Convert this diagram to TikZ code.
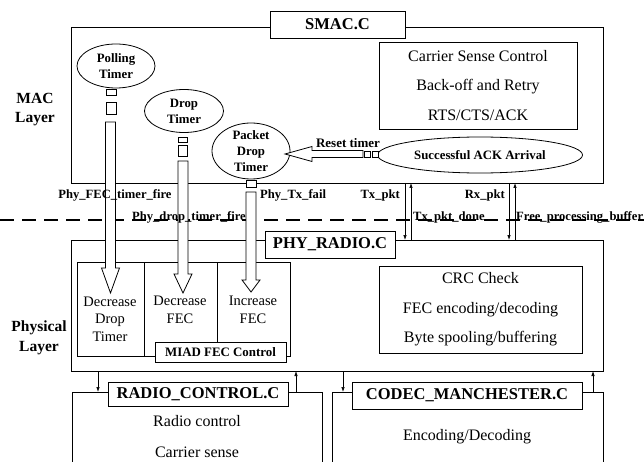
\documentclass[tikz,border=0pt]{standalone}
\usepackage{fontspec}
\setmainfont{Liberation Serif}
\usetikzlibrary{positioning}
\usetikzlibrary{shapes.geometric,arrows.meta}

\tikzset{
	box/.style={draw, line width=0.8pt, inner sep=0pt, outer sep=0pt},
	title/.style={box, fill=white, font=\fontsize{16.5}{19}\selectfont\bfseries},
	plain/.style={align=center, font=\fontsize{16}{29.5}\selectfont},
	timer/.style={draw, line width=0.8pt, ellipse, inner sep=0pt, outer sep=0pt},
	timertext/.style={align=center, inner sep=0pt, font=\fontsize{12.8}{16}\selectfont\bfseries},
	cell/.style={align=center, font=\fontsize{14.5}{17.5}\selectfont},
	layer/.style={align=center, font=\fontsize{15.5}{19.5}\selectfont\bfseries},
	signame/.style={inner sep=0pt, font=\fontsize{12.6}{14}\selectfont\bfseries},
	sig/.style={line width=0.7pt, -{Latex[length=5pt,width=3.5pt]}},
	blockarrow/.style={draw, fill=white, line width=0.8pt, line join=miter},
}

% hollow arrow going down: x, shaft top, head top, tip
\newcommand{\blockdown}[4]{%
	\draw[blockarrow] (#1-5,#2) -- (#1-5,#3) -- (#1-9,#3) -- (#1,#4)
		-- (#1+9,#3) -- (#1+5,#3) -- (#1+5,#2) -- cycle;}

\begin{document}
\begin{tikzpicture}[x=1pt, y=-1pt]
	\useasboundingbox (0,0) rectangle (644,462);
	\clip (0,0) rectangle (644,462);
	\fill[white] (0,0) rectangle (644,462);
	
	% ---------------------
	% MAC layer
	\node[layer] (MacLayer) at (35,109.5) {MAC\\Layer};
	\node[box, minimum width=532pt, minimum height=156pt] (SmacBox) at (337,105) {};
	\node[title, minimum width=135pt, minimum height=27pt] (SmacTitle) at (337.5,24.5) {SMAC.C};
	\node[box, plain, minimum width=198pt, minimum height=87pt] (SmacTasks) at (478,85.5)
		{Carrier Sense Control\\Back-off and Retry\\RTS/CTS/ACK};
	
	\node[timer, minimum width=78pt, minimum height=44pt,
		label={[timertext]center:Polling\\Timer}] (PollingTimer) at (116,66) {};
	\node[timer, minimum width=79pt, minimum height=43pt,
		label={[timertext]center:Drop\\Timer}] (DropTimer) at (184,111) {};
	\node[timer, minimum width=78pt, minimum height=56pt,
		label={[timertext]center:Packet\\Drop\\Timer}] (PacketTimer) at (251,151) {};
	\node[timer, minimum width=205pt, minimum height=36pt,
		font=\fontsize{12.8}{15}\selectfont\bfseries] (AckArrival) at (480,155) {Successful ACK Arrival};
	
	% ---------------------
	% Layer border
	\coordinate (DashL) at (0,220);
	\coordinate (DashR) at (644,220);
	\draw[line width=2.6pt, dash pattern=on 14pt off 8pt] (DashL) -- (DashR);
	
	% ---------------------
	% Physical layer
	\node[layer] (PhyLayer) at (39,338) {Physical\\Layer};
	\node[box, minimum width=532pt, minimum height=131pt] (PhyBox) at (337,305.5) {};
	\node[title, minimum width=130pt, minimum height=27pt] (PhyTitle) at (330,244.5) {PHY\_RADIO.C};
	\node[box, plain, minimum width=203pt, minimum height=87pt] (PhyTasks) at (480.5,309.5)
		{CRC Check\\FEC encoding/decoding\\Byte spooling/buffering};
	
	\node[box, minimum width=213pt, minimum height=94pt] (MiadBox) at (183.5,309) {};
	\draw[line width=0.8pt] (144,262) -- (144,356);
	\draw[line width=0.8pt] (217,262) -- (217,342);
	\node[title, minimum width=131pt, minimum height=20pt,
		font=\fontsize{12.9}{15}\selectfont\bfseries] (MiadTitle) at (220.5,352) {MIAD FEC Control};
	\node[cell] (DecDrop) at (110,319) {Decrease\\Drop\\Timer};
	\node[cell] (DecFec) at (180,310) {Decrease\\FEC};
	\node[cell] (IncFec) at (253,310) {Increase\\FEC};
	
	% ---------------------
	% Lower modules
	\node[box, minimum width=250pt, minimum height=88pt] (RadioBox) at (197,436) {};
	\node[title, minimum width=180pt, minimum height=24pt] (RadioTitle) at (198,394) {RADIO\_CONTROL.C};
	\node[plain, font=\fontsize{16}{31}\selectfont] (RadioTasks) at (197,437) {Radio control\\Carrier sense};
	
	\node[box, minimum width=271pt, minimum height=88pt] (CodecBox) at (467.5,436) {};
	\node[title, minimum width=230pt, minimum height=27pt] (CodecTitle) at (467,395.5) {CODEC\_MANCHESTER.C};
	\node[plain] (CodecTasks) at (467,437) {Encoding/Decoding};
	
	% ---------------------
	% Signals between layers
	\coordinate (TxPkt) at (405,0);
	\coordinate (TxDone) at (411,0);
	\coordinate (RxPkt) at (509,0);
	\coordinate (FreeBuf) at (515,0);
	\draw[sig] (SmacBox.south -| TxPkt) -- (PhyBox.north -| TxPkt);
	\draw[sig] (PhyBox.north -| TxDone) -- (SmacBox.south -| TxDone);
	\draw[sig] (SmacBox.south -| RxPkt) -- (PhyBox.north -| RxPkt);
	\draw[sig] (PhyBox.north -| FreeBuf) -- (SmacBox.south -| FreeBuf);
	
	\coordinate (RadioDown) at (98,0);
	\coordinate (RadioUp) at (296,0);
	\coordinate (CodecDown) at (343,0);
	\coordinate (CodecUp) at (593,0);
	\draw[sig] (PhyBox.south -| RadioDown) -- (RadioBox.north -| RadioDown);
	\draw[sig] (RadioBox.north -| RadioUp) -- (PhyBox.south -| RadioUp);
	\draw[sig] (PhyBox.south -| CodecDown) -- (CodecBox.north -| CodecDown);
	\draw[sig] (CodecBox.north -| CodecUp) -- (PhyBox.south -| CodecUp);
	
	% ---------------------
	% Timer firing
	\draw[blockarrow] (106,89) rectangle (116,95);
	\draw[blockarrow] (106,102) rectangle (116,114);
	\blockdown{110.5}{122}{268}{293}
	
	\draw[blockarrow] (178.5,137) rectangle (187.5,142);
	\draw[blockarrow] (178.5,145) rectangle (187.5,156);
	\blockdown{183}{161}{274}{293}
	
	\draw[blockarrow] (246,180) rectangle (256,187);
	\blockdown{251}{192}{280}{292}
	
	% Reset timer
	\path (PacketTimer.east) +(-5,3) coordinate (ResetTip);
	\draw[blockarrow] (363,150.5) -- (312,150.5) -- (312,146.5) -- (ResetTip)
		-- (312,161.5) -- (312,157.5) -- (363,157.5) -- cycle;
	\draw[blockarrow] (364,151) rectangle (370,157);
	\draw[blockarrow] (372,151) rectangle (378,157);
	
	% ---------------------
	% Signal names
	\node[signame] (FecFire) at (115,195) {Phy\_FEC\_timer\_fire};
	\node[signame] (DropFire) at (189,217) {Phy\_drop\_timer\_fire};
	\node[signame, anchor=west] (TxFail) at (260,195) {Phy\_Tx\_fail};
	\node[signame, anchor=east] (TxPktName) at (400,195) {Tx\_pkt};
	\node[signame, anchor=west] (TxDoneName) at (413,217) {Tx\_pkt\_done};
	\node[signame, anchor=east] (RxPktName) at (505,195) {Rx\_pkt};
	\node[signame, anchor=west] (FreeBufName) at (516,217) {Free\_processing\_buffer};
	\node[signame, font=\fontsize{13}{15}\selectfont\bfseries] (ResetName) at (348,143) {Reset timer};
	
\end{tikzpicture}
\end{document}
